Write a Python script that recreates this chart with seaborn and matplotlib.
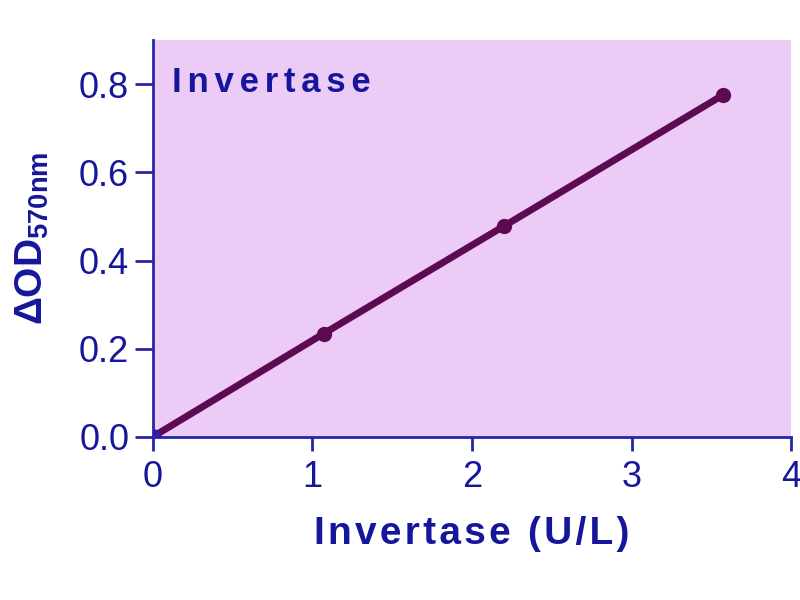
import matplotlib
matplotlib.use("Agg")
import matplotlib.pyplot as plt
import seaborn as sns
import pandas as pd

activity = [0.0, 1.07, 2.2, 3.57]
delta_od = [0.0, 0.234, 0.478, 0.775]
xticks = [0, 1, 2, 3, 4]
yticks = [0.0, 0.2, 0.4, 0.6, 0.8]
x_label = "Invertase (U/L)"
title = "Invertase"

sns.set_style("ticks")
plt.rcParams['font.family'] = ['Liberation Sans', 'DejaVu Sans']
plt.rcParams['mathtext.fontset'] = 'custom'
plt.rcParams['mathtext.rm'] = 'Liberation Sans'
plt.rcParams['mathtext.bf'] = 'Liberation Sans:bold'

text_c = '#16169c'
spine_c = '#2626a6'
line_c = '#5c0a52'
bg_c = '#ecccf6'

HAIR = '\u200a'


def track(s, sep):
    return sep.join(list(s))


df = pd.DataFrame({'x': activity, 'y': delta_od})

fig = plt.figure(figsize=(8, 6), dpi=100)
ax = fig.add_axes([0.191, 0.272, 0.798, 0.661])
ax.set_facecolor(bg_c)

sns.lineplot(data=df, x='x', y='y', ax=ax, color=line_c, linewidth=5,
             marker='o', markersize=11, markeredgewidth=0, markerfacecolor=line_c)
ax.plot(activity[:1], delta_od[:1], 'o', color='#3a1aa0', markersize=11, zorder=5)

ax.set_xlim(0, 4)
ax.set_ylim(0, 0.9)
ax.set_xticks(xticks)
ax.set_xticklabels([str(t) for t in xticks])
ax.set_yticks(yticks)
ax.set_yticklabels([f"{t:.1f}" for t in yticks])

for side in ['top', 'right']:
    ax.spines[side].set_visible(False)
for side in ['left', 'bottom']:
    ax.spines[side].set_color(spine_c)
    ax.spines[side].set_linewidth(2)
ax.tick_params(axis='both', direction='out', width=2, color=spine_c,
               labelcolor=text_c, labelsize=26)
ax.tick_params(axis='y', length=13, pad=4)
ax.tick_params(axis='x', length=10, pad=7)

ax.set_xlabel(track(x_label, HAIR), fontsize=28, fontweight='bold',
              color=text_c, labelpad=15)
ax.set_ylabel(r'$\mathbf{\Delta OD}_{\mathbf{570nm}}$', fontsize=28, color=text_c, labelpad=20)
ax.text(0.03, 0.935, track(title, HAIR * 2), transform=ax.transAxes, fontsize=25,
        fontweight='bold', color=text_c, va='top', ha='left')

fig.savefig('out.png', dpi=100, facecolor='white')
